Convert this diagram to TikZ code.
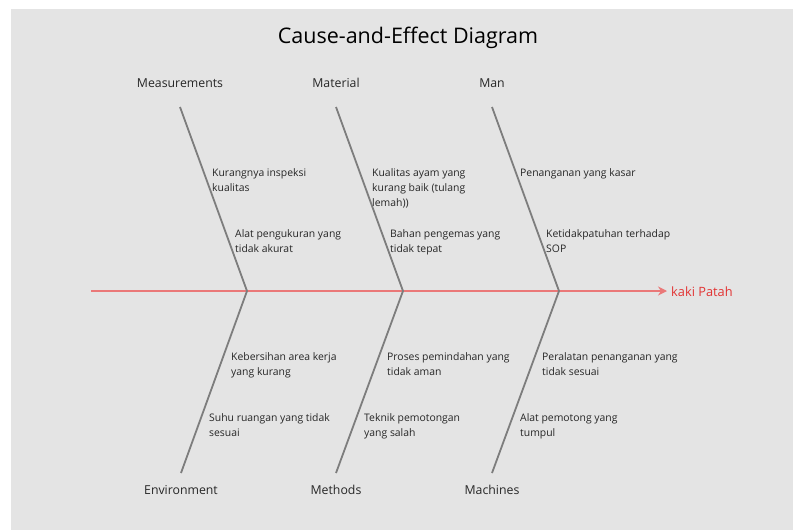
\documentclass[tikz,border=0pt]{standalone}
\usepackage{fontspec}
\setmainfont{Open Sans}
\usetikzlibrary{arrows.meta}
\definecolor{panel}{RGB}{228,228,228}
\definecolor{bonegray}{RGB}{125,125,125}
\definecolor{spinered}{RGB}{234,120,120}
\definecolor{effectred}{RGB}{226,52,52}
\tikzset{
  bone/.style={draw=bonegray, line width=1.8pt},
  spine/.style={draw=spinered, line width=1.6pt, -{Stealth[length=9pt,width=9pt,inset=3pt]}},
  category/.style={font=\fontsize{12.3}{14}\selectfont, text=black!85, inner sep=0pt},
  cause/.style={font=\fontsize{10.4}{15}\selectfont, text=black!85, align=left, anchor=north west, inner sep=0pt},
  titletext/.style={font=\fontsize{21.5}{25}\selectfont, text=black, inner sep=0pt}
}
\begin{document}
\begin{tikzpicture}[x=1pt,y=-1pt]
\useasboundingbox (0,0) rectangle (793,530);
\fill[white] (0,0) rectangle (793,530);
\fill[panel] (11,9) rectangle (793,530);

% title
\node[titletext] (title) at (408,38) {Cause-and-Effect Diagram};

% category labels
\node[category] (meas) at (180,83) {Measurements};
\node[category] (mat)  at (336,83) {Material};
\node[category] (man)  at (492,83) {Man};
\node[category] (env)  at (181,490) {Environment};
\node[category] (meth) at (336,490) {Methods};
\node[category] (mach) at (492,490) {Machines};

% bone ends and joints on the spine
\coordinate (tail) at (91,291);
\coordinate (head) at (667,291);
\coordinate (j1) at (247,291);
\coordinate (j2) at (403,291);
\coordinate (j3) at (559,291);
\coordinate (t1) at (180,107);
\coordinate (t2) at (336,107);
\coordinate (t3) at (492,107);
\coordinate (b1) at (181,473);
\coordinate (b2) at (336,473);
\coordinate (b3) at (492,473);

% spine and effect
\draw[spine] (tail) -- (head);
\node[anchor=west, inner sep=0pt, text=effectred, font=\fontsize{12.8}{15}\selectfont] (effect) at (671,291.5) {kaki Patah};

% bones
\draw[bone] (t1) -- (j1) -- (b1);
\draw[bone] (t2) -- (j2) -- (b2);
\draw[bone] (t3) -- (j3) -- (b3);

% causes, upper row
\node[cause] (c11) at (212,168) {Kurangnya inspeksi\\kualitas};
\node[cause] (c12) at (235,229) {Alat pengukuran yang\\tidak akurat};
\node[cause] (c21) at (372,168) {Kualitas ayam yang\\kurang baik (tulang\\lemah))};
\node[cause] (c22) at (390,229) {Bahan pengemas yang\\tidak tepat};
\node[cause] (c31) at (520,168) {Penanganan yang kasar};
\node[cause] (c32) at (546,229) {Ketidakpatuhan terhadap\\SOP};

% causes, lower row
\node[cause] (c41) at (231,352) {Kebersihan area kerja\\yang kurang};
\node[cause] (c42) at (209,413) {Suhu ruangan yang tidak\\sesuai};
\node[cause] (c51) at (387,352) {Proses pemindahan yang\\tidak aman};
\node[cause] (c52) at (364,413) {Teknik pemotongan\\yang salah};
\node[cause] (c61) at (542,352) {Peralatan penanganan yang\\tidak sesuai};
\node[cause] (c62) at (520,413) {Alat pemotong yang\\tumpul};
\end{tikzpicture}
\end{document}
